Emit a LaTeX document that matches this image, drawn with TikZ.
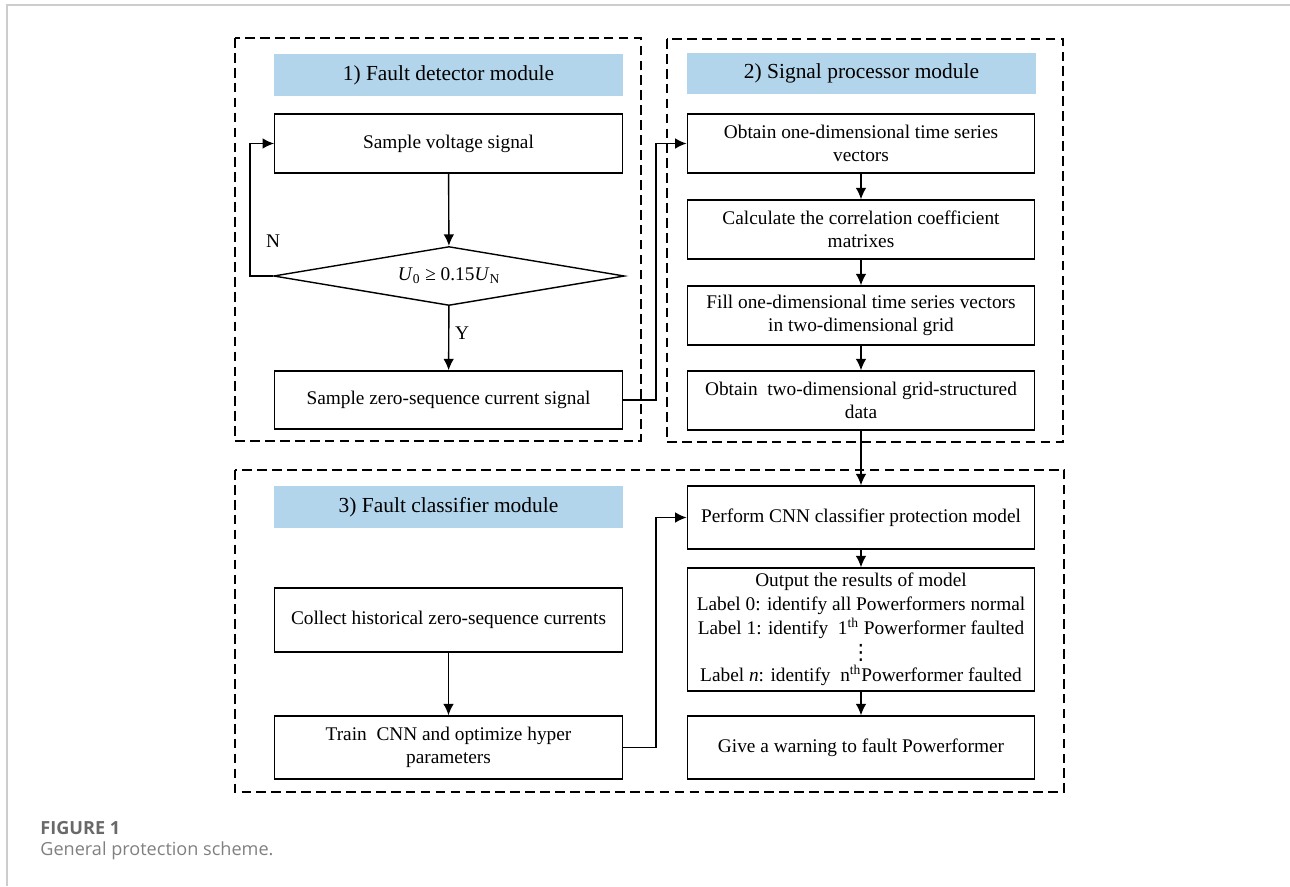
\documentclass[tikz,border=0pt]{standalone}
\usepackage{fontspec}
\setmainfont{Liberation Serif}
\newfontfamily\capfont{Open Sans}
\newfontfamily\dotsfont{DejaVu Sans}
\usetikzlibrary{arrows.meta,shapes.geometric}
\definecolor{titleblue}{RGB}{178,213,235}
\definecolor{capgray}{RGB}{105,105,105}
\definecolor{framegray}{RGB}{205,205,205}
\tikzset{
	procbox/.style={draw,line width=.8pt,minimum width=6.95cm,minimum height=1.18cm,align=center,inner sep=1pt,font=\fontsize{11}{13.2}\selectfont},
	titlebar/.style={fill=titleblue,minimum width=6.98cm,minimum height=.84cm,inner sep=0pt,font=\fontsize{12.2}{14}\selectfont},
	modframe/.style={line width=.8pt,dash pattern=on 5.5pt off 3pt},
	decision/.style={diamond,draw,line width=.8pt,aspect=6,minimum width=7.02cm,minimum height=1.18cm,inner sep=0pt,font=\fontsize{11}{13.2}\selectfont},
	flow/.style={->,line width=.8pt},
	yesno/.style={inner sep=0pt,font=\fontsize{11}{13.2}\selectfont}
}
\begin{document}
\begin{tikzpicture}[x=.02cm,y=-.02cm,>={Latex[length=6.5pt,width=6pt]}]
	\useasboundingbox (0,0) rectangle (1290,886);
	\draw[framegray,line width=1.2pt] (7,886)--(7,5)--(1290,5);
	\draw[modframe] (235,38) rectangle (641,441);
	\draw[modframe] (667,39) rectangle (1063,442);
	\draw[modframe] (235,470) rectangle (1064,792);
	\node[titlebar] (t1) at (448.5,75) {1) Fault detector module};
	\node[titlebar] (t2) at (861.5,73.5) {2) Signal processor module};
	\node[titlebar] (t3) at (448.5,507) {3) Fault classifier module};
	\node[procbox] (sv) at (448.5,143.5) {Sample voltage signal};
	\node[decision] (dia) at (449,276) {\textit{U}\textsubscript{0} ≥ 0.15\textit{U}\textsubscript{N}};
	\node[procbox,minimum height=1.16cm] (zs) at (448.5,400) {Sample zero-sequence current signal};
	\node[procbox] (obt) at (861,143.5) {Obtain one-dimensional time series\\vectors};
	\node[procbox] (cal) at (861,229.5) {Calculate the correlation coefficient\\matrixes};
	\node[procbox] (fill) at (861,315.5) {Fill one-dimensional time series vectors\\in two-dimensional grid};
	\node[procbox] (grid) at (861,400.5) {Obtain~ two-dimensional grid-structured\\data};
	\node[procbox,minimum height=1.26cm] (cnn) at (861,517.5) {Perform CNN classifier protection model};
	\node[procbox,minimum height=2.46cm,font=\fontsize{11}{13.6}\selectfont] (out) at (861,629.5) {Output the results of model\\Label 0: identify all Powerformers normal\\Label 1: identify~ 1\textsuperscript{th} Powerformer faulted\\[0.5pt]\smash{\dotsfont\fontsize{12}{12}\selectfont ⋮}\\[-0.6pt]Label \textit{n}: identify~ n\textsuperscript{th}Powerformer faulted};
	\node[procbox,minimum height=1.26cm] (warn) at (861,747.5) {Give a warning to fault Powerformer};
	\node[procbox,minimum height=1.28cm] (col) at (448.5,620) {Collect historical zero-sequence currents};
	\node[procbox,minimum height=1.26cm] (train) at (448.5,747.5) {Train~ CNN and optimize hyper\\parameters};
	\node[yesno] (nlab) at (273,241) {N};
	\node[yesno] (ylab) at (462,333) {Y};
	\draw[flow] (sv)--(dia);
	\draw[flow] (dia)--(zs);
	\draw[flow] (dia.west)--++(-23,0)|-(sv.west);
	\draw[flow] (zs.east)--++(33,0)|-(obt.west);
	\draw[flow] (obt)--(cal);
	\draw[flow] (cal)--(fill);
	\draw[flow] (fill)--(grid);
	\draw[flow] (grid)--(cnn);
	\draw[flow] (cnn)--(out);
	\draw[flow] (out)--(warn);
	\draw[flow] (col)--(train);
	\draw[flow] (train.east)--++(33,0)|-(cnn.west);
	\node[anchor=base west,inner sep=0pt,text=capgray,font=\capfont\bfseries\fontsize{10.3}{12}\selectfont] (figno) at (40,834) {FIGURE 1};
	\node[anchor=base west,inner sep=0pt,text=capgray!85,font=\capfont\fontsize{10.3}{12}\selectfont] (figcap) at (40,855) {General protection scheme.};
\end{tikzpicture}
\end{document}
